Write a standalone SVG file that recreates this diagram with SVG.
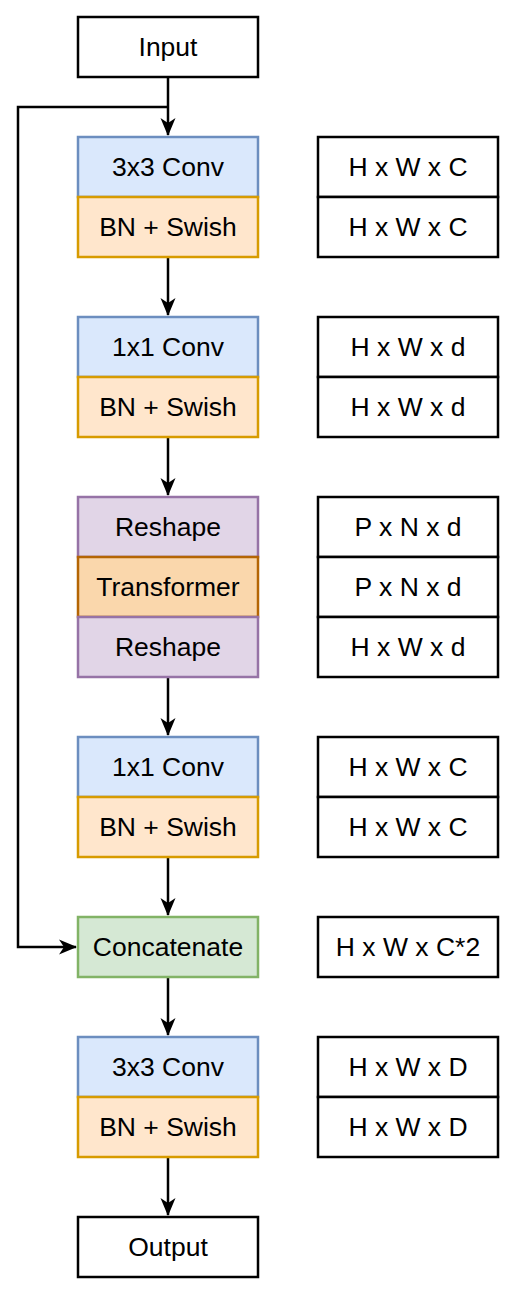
<svg xmlns="http://www.w3.org/2000/svg" width="514" height="1293" viewBox="0 0 514 1293">
<style>
rect{stroke-width:2.5}
.w{fill:#ffffff;stroke:#000000}
.b{fill:#dae8fc;stroke:#6c8ebf}
.o{fill:#ffe6cc;stroke:#d79b00}
.p{fill:#e1d5e7;stroke:#9673a6}
.t{fill:#fad7ac;stroke:#b46504}
.g{fill:#d5e8d4;stroke:#82b366}
text{font-family:"Liberation Sans",Arial,sans-serif;font-size:26.5px;fill:#000;text-anchor:middle}
.c path{fill:none;stroke:#000;stroke-width:2.5}
</style>
<defs>
<marker id="a" markerUnits="userSpaceOnUse" viewBox="0 0 18 16" markerWidth="18" markerHeight="16" refX="17" refY="8" orient="auto">
<path d="M18,8 L0,0.5 L5,8 L0,15.5 Z" fill="#000"/>
</marker>
</defs>
<rect width="514" height="1293" fill="#fff"/>
<g class="c">
<path d="M168,77 V135" marker-end="url(#a)"/>
<path d="M168,107 H18 V947 H76" marker-end="url(#a)"/>
<path d="M168,257 V315" marker-end="url(#a)"/>
<path d="M168,437 V495" marker-end="url(#a)"/>
<path d="M168,677 V735" marker-end="url(#a)"/>
<path d="M168,857 V915" marker-end="url(#a)"/>
<path d="M168,977 V1035" marker-end="url(#a)"/>
<path d="M168,1157 V1215" marker-end="url(#a)"/>
</g>
<g id="input"><rect class="w" x="78" y="17" width="180" height="60"/><text x="168" y="56">Input</text></g>
<g id="conv1"><rect class="b" x="78" y="137" width="180" height="60"/><text x="168" y="176">3x3 Conv</text></g>
<g id="bn1"><rect class="o" x="78" y="197" width="180" height="60"/><text x="168" y="236">BN + Swish</text></g>
<g id="conv2"><rect class="b" x="78" y="317" width="180" height="60"/><text x="168" y="356">1x1 Conv</text></g>
<g id="bn2"><rect class="o" x="78" y="377" width="180" height="60"/><text x="168" y="416">BN + Swish</text></g>
<g id="reshape1"><rect class="p" x="78" y="497" width="180" height="60"/><text x="168" y="536">Reshape</text></g>
<g id="transformer"><rect class="t" x="78" y="557" width="180" height="60"/><text x="168" y="596">Transformer</text></g>
<g id="reshape2"><rect class="p" x="78" y="617" width="180" height="60"/><text x="168" y="656">Reshape</text></g>
<g id="conv3"><rect class="b" x="78" y="737" width="180" height="60"/><text x="168" y="776">1x1 Conv</text></g>
<g id="bn3"><rect class="o" x="78" y="797" width="180" height="60"/><text x="168" y="836">BN + Swish</text></g>
<g id="concat"><rect class="g" x="78" y="917" width="180" height="60"/><text x="168" y="956">Concatenate</text></g>
<g id="conv4"><rect class="b" x="78" y="1037" width="180" height="60"/><text x="168" y="1076">3x3 Conv</text></g>
<g id="bn4"><rect class="o" x="78" y="1097" width="180" height="60"/><text x="168" y="1136">BN + Swish</text></g>
<g id="output"><rect class="w" x="78" y="1217" width="180" height="60"/><text x="168" y="1256">Output</text></g>
<g id="s1"><rect class="w" x="318" y="137" width="180" height="60"/><text x="408" y="176">H x W x C</text></g>
<g id="s2"><rect class="w" x="318" y="197" width="180" height="60"/><text x="408" y="236">H x W x C</text></g>
<g id="s3"><rect class="w" x="318" y="317" width="180" height="60"/><text x="408" y="356">H x W x d</text></g>
<g id="s4"><rect class="w" x="318" y="377" width="180" height="60"/><text x="408" y="416">H x W x d</text></g>
<g id="s5"><rect class="w" x="318" y="497" width="180" height="60"/><text x="408" y="536">P x N x d</text></g>
<g id="s6"><rect class="w" x="318" y="557" width="180" height="60"/><text x="408" y="596">P x N x d</text></g>
<g id="s7"><rect class="w" x="318" y="617" width="180" height="60"/><text x="408" y="656">H x W x d</text></g>
<g id="s8"><rect class="w" x="318" y="737" width="180" height="60"/><text x="408" y="776">H x W x C</text></g>
<g id="s9"><rect class="w" x="318" y="797" width="180" height="60"/><text x="408" y="836">H x W x C</text></g>
<g id="s10"><rect class="w" x="318" y="917" width="180" height="60"/><text x="408" y="956">H x W x C*2</text></g>
<g id="s11"><rect class="w" x="318" y="1037" width="180" height="60"/><text x="408" y="1076">H x W x D</text></g>
<g id="s12"><rect class="w" x="318" y="1097" width="180" height="60"/><text x="408" y="1136">H x W x D</text></g>
</svg>
